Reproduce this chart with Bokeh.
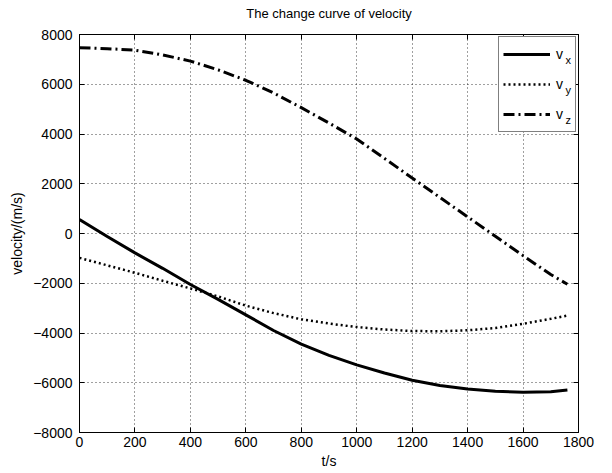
from bokeh.plotting import figure
from bokeh.models import (Range1d, FixedTicker, LinearAxis, Legend, LegendItem,
                          CustomLabelingPolicy)
from bokeh.embed import file_html
from bokeh.resources import INLINE

t = [0, 100, 200, 300, 400, 500, 600, 700, 800, 900, 1000, 1100, 1200, 1300, 1400, 1500, 1600, 1700, 1760]
vx = [560, -120, -780, -1400, -2050, -2650, -3270, -3900, -4450, -4900, -5280, -5610, -5900, -6110, -6250, -6340, -6380, -6360, -6290]
vy = [-980, -1280, -1580, -1900, -2210, -2530, -2900, -3200, -3450, -3620, -3760, -3860, -3920, -3930, -3890, -3800, -3630, -3430, -3300]
vz = [7470, 7430, 7370, 7180, 6930, 6580, 6160, 5650, 5060, 4440, 3800, 3020, 2230, 1450, 670, -110, -890, -1650, -2040]

series_names = ["v", "v", "v"]
series_subs = ["x", "y", "z"]

x_ticks = list(range(0, 1801, 200))
y_ticks = list(range(-8000, 8001, 2000))

FONT = "Liberation Sans"

p = figure(width=612, height=473, output_backend="svg", toolbar_location=None,
           x_range=Range1d(0, 1800), y_range=Range1d(-8000, 8000),
           min_border_left=79, min_border_right=22, min_border_top=33, min_border_bottom=41,
           title="The change curve of velocity")
p.title.align = "center"
p.title.text_font = FONT
p.title.text_font_size = "13px"
p.title.text_font_style = "normal"
p.title.text_color = "black"
p.title.standoff = 6
p.outline_line_color = "black"
p.outline_line_width = 1

for ax in (p.xaxis[0], p.yaxis[0]):
    ax.major_label_text_font = FONT
    ax.major_label_text_font_size = "14px"
    ax.major_label_text_color = "black"
    ax.axis_label_text_font = FONT
    ax.axis_label_text_font_size = "14px"
    ax.axis_label_text_font_style = "normal"
    ax.axis_label_text_color = "black"
    ax.major_tick_in = 5
    ax.major_tick_out = 0
    ax.minor_tick_line_color = None
    ax.axis_line_color = "black"
    ax.major_tick_line_color = "black"

p.xaxis[0].ticker = FixedTicker(ticks=x_ticks)
p.yaxis[0].ticker = FixedTicker(ticks=y_ticks)
p.xaxis[0].axis_label = "t/s"
p.yaxis[0].axis_label = "velocity/(m/s)"
p.xaxis[0].major_label_standoff = 4
p.xaxis[0].axis_label_standoff = 3
p.yaxis[0].major_label_standoff = 7
p.yaxis[0].axis_label_standoff = 5

hide_all = CustomLabelingPolicy(code="for (const i of indices) indices.unset(i); return indices")
top = LinearAxis(ticker=FixedTicker(ticks=x_ticks), major_label_policy=hide_all,
                 major_tick_in=5, major_tick_out=0, minor_tick_line_color=None,
                 axis_line_color="black", major_label_standoff=0)
right = LinearAxis(ticker=FixedTicker(ticks=y_ticks), major_label_policy=hide_all,
                   major_tick_in=5, major_tick_out=0, minor_tick_line_color=None,
                   axis_line_color="black", major_label_standoff=0)
p.add_layout(top, "above")
p.add_layout(right, "right")

for g in (p.xgrid[0], p.ygrid[0]):
    g.grid_line_color = "black"
    g.grid_line_dash = "1 3"
    g.grid_line_alpha = 0.75
p.xgrid[0].ticker = FixedTicker(ticks=x_ticks)
p.ygrid[0].ticker = FixedTicker(ticks=y_ticks)

rx = p.line(t, vx, line_color="black", line_width=3)
ry = p.line(t, vy, line_color="black", line_width=2.5, line_dash="2 3")
rz = p.line(t, vz, line_color="black", line_width=3, line_dash="11 4 2 4")
renderers = [rx, ry, rz]

legend = Legend(items=[LegendItem(label=n, renderers=[r]) for n, r in zip(series_names, renderers)],
                location="top_right", label_text_font=FONT, label_text_font_size="14px",
                label_text_color="black",
                glyph_width=47, glyph_height=26, spacing=4, padding=4, margin=2,
                label_standoff=6, label_width=15, label_height=26,
                border_line_color="black", border_line_width=1, background_fill_alpha=1)
p.add_layout(legend)

# second, transparent legend carrying only the subscripts (zero-width glyphs);
# the leading empty line drops each subscript below the baseline of its "v"
sub_legend = Legend(items=[LegendItem(label="\n" + s, renderers=[r]) for s, r in zip(series_subs, renderers)],
                    location="top_right", label_text_font=FONT, label_text_font_size="11px",
                    label_text_color="black", label_text_line_height=1.1,
                    glyph_width=0, glyph_height=26, spacing=4, padding=0, margin=7,
                    label_standoff=0, label_width=0, label_height=26,
                    border_line_color=None, background_fill_alpha=0)
p.add_layout(sub_legend)

html = file_html(p, INLINE)
open("out.html", "w").write(html)
